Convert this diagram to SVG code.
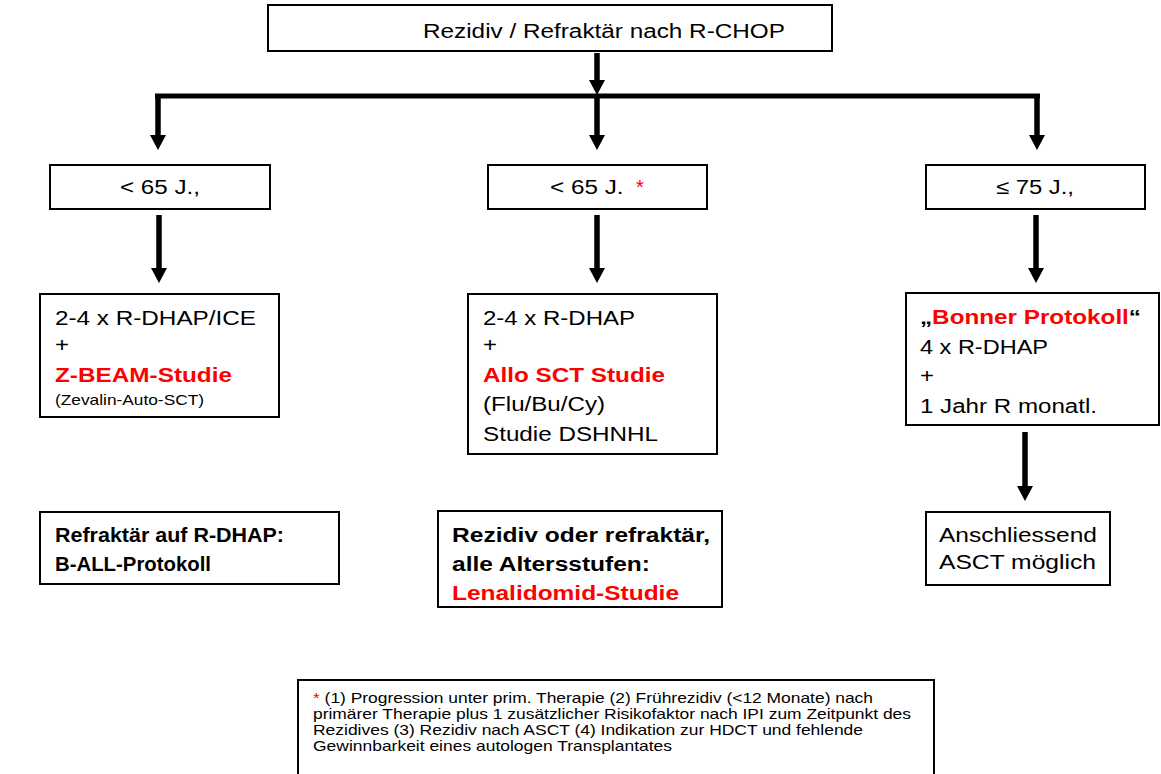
<svg xmlns="http://www.w3.org/2000/svg" width="1161" height="774" viewBox="0 0 1161 774">
<style>
.box{fill:#fff;stroke:#000;stroke-width:2}
.t{font-family:"Liberation Sans",Arial,sans-serif;font-size:20px;fill:#000}
.b{font-weight:bold}
.r{fill:#ff0000}
.s{font-size:15px}
.ln{stroke:#000;stroke-width:5.5;fill:none}
.hd{fill:#000}
</style>
<rect width="1161" height="774" fill="#fff"/>

<g id="connectors">
  <line class="ln" x1="597" y1="53" x2="597" y2="81"/>
  <polygon class="hd" points="589,80 605,80 597,95"/>
  <line x1="155" y1="96" x2="1040" y2="96" stroke="#000" stroke-width="5"/>
  <line class="ln" x1="158" y1="96" x2="158" y2="136"/>
  <polygon class="hd" points="150,135 166,135 158,150"/>
  <line class="ln" x1="597" y1="96" x2="597" y2="136"/>
  <polygon class="hd" points="589,135 605,135 597,150"/>
  <line class="ln" x1="1037" y1="96" x2="1037" y2="136"/>
  <polygon class="hd" points="1029,135 1045,135 1037,150"/>
  <line class="ln" x1="159" y1="215" x2="159" y2="269"/>
  <polygon class="hd" points="151,268 167,268 159,283"/>
  <line class="ln" x1="597" y1="215" x2="597" y2="269"/>
  <polygon class="hd" points="589,268 605,268 597,283"/>
  <line class="ln" x1="1036" y1="215" x2="1036" y2="269"/>
  <polygon class="hd" points="1028,268 1044,268 1036,283"/>
  <line class="ln" x1="1025" y1="432" x2="1025" y2="487"/>
  <polygon class="hd" points="1017,486 1033,486 1025,501"/>
</g>

<g id="n-top">
  <rect class="box" x="268" y="5" width="564" height="46"/>
  <text class="t" x="423" y="38" textLength="362" lengthAdjust="spacingAndGlyphs">Rezidiv / Refraktär nach R-CHOP</text>
</g>

<g id="n-age1">
  <rect class="box" x="50" y="165" width="220" height="44"/>
  <text class="t" x="120" y="194" textLength="80" lengthAdjust="spacingAndGlyphs">&lt; 65 J.,</text>
</g>
<g id="n-age2">
  <rect class="box" x="488" y="165" width="219" height="44"/>
  <text class="t" x="550" y="194" textLength="73.6" lengthAdjust="spacingAndGlyphs">&lt; 65 J.</text>
  <text class="t r" x="636" y="194">*</text>
</g>
<g id="n-age3">
  <rect class="box" x="926" y="165" width="219" height="44"/>
  <text class="t" x="996" y="194" textLength="78" lengthAdjust="spacingAndGlyphs">≤ 75 J.,</text>
</g>

<g id="n-left">
  <rect class="box" x="40" y="294" width="239" height="123"/>
  <text class="t" x="55" y="325" textLength="201" lengthAdjust="spacingAndGlyphs">2-4 x R-DHAP/ICE</text>
  <text class="t" x="55" y="352" textLength="14" lengthAdjust="spacingAndGlyphs">+</text>
  <text class="t b r" x="55" y="382" textLength="177" lengthAdjust="spacingAndGlyphs">Z-BEAM-Studie</text>
  <text class="t s" x="55" y="405" textLength="149" lengthAdjust="spacingAndGlyphs">(Zevalin-Auto-SCT)</text>
</g>

<g id="n-mid">
  <rect class="box" x="468" y="294" width="249" height="160"/>
  <text class="t" x="483" y="325" textLength="152" lengthAdjust="spacingAndGlyphs">2-4 x R-DHAP</text>
  <text class="t" x="483" y="352" textLength="14" lengthAdjust="spacingAndGlyphs">+</text>
  <text class="t b r" x="483" y="382" textLength="182" lengthAdjust="spacingAndGlyphs">Allo SCT Studie</text>
  <text class="t" x="483" y="411" textLength="122" lengthAdjust="spacingAndGlyphs">(Flu/Bu/Cy)</text>
  <text class="t" x="483" y="441" textLength="175" lengthAdjust="spacingAndGlyphs">Studie DSHNHL</text>
</g>

<g id="n-right">
  <rect class="box" x="906" y="293" width="253" height="132"/>
  <text class="t b" x="920" y="324" textLength="221" lengthAdjust="spacingAndGlyphs">„<tspan class="r">Bonner Protokoll</tspan>“</text>
  <text class="t" x="920" y="354" textLength="128" lengthAdjust="spacingAndGlyphs">4 x R-DHAP</text>
  <text class="t" x="920" y="383" textLength="14" lengthAdjust="spacingAndGlyphs">+</text>
  <text class="t" x="920" y="413" textLength="177" lengthAdjust="spacingAndGlyphs">1 Jahr R monatl.</text>
</g>

<g id="n-asct">
  <rect class="box" x="926" y="512" width="184" height="73"/>
  <text class="t" x="939" y="542" textLength="158" lengthAdjust="spacingAndGlyphs">Anschliessend</text>
  <text class="t" x="939" y="569" textLength="157" lengthAdjust="spacingAndGlyphs">ASCT möglich</text>
</g>

<g id="n-refr">
  <rect class="box" x="40" y="512" width="299" height="72"/>
  <text class="t b" x="55" y="542" textLength="229" lengthAdjust="spacingAndGlyphs">Refraktär auf R-DHAP:</text>
  <text class="t b" x="55" y="571" textLength="156" lengthAdjust="spacingAndGlyphs">B-ALL-Protokoll</text>
</g>

<g id="n-lena">
  <rect class="box" x="438" y="511" width="284" height="96"/>
  <text class="t b" x="452" y="542" textLength="258" lengthAdjust="spacingAndGlyphs">Rezidiv oder refraktär,</text>
  <text class="t b" x="452" y="571" textLength="198" lengthAdjust="spacingAndGlyphs">alle Altersstufen:</text>
  <text class="t b r" x="452" y="600" textLength="227" lengthAdjust="spacingAndGlyphs">Lenalidomid-Studie</text>
</g>

<g id="n-foot">
  <rect class="box" x="298" y="680" width="636" height="100"/>
  <text class="t s" x="313" y="703" textLength="560" lengthAdjust="spacingAndGlyphs"><tspan class="r">*</tspan> (1) Progression unter prim. Therapie (2) Frührezidiv (&lt;12 Monate) nach</text>
  <text class="t s" x="313" y="719" textLength="598" lengthAdjust="spacingAndGlyphs">primärer Therapie plus 1 zusätzlicher Risikofaktor nach IPI zum Zeitpunkt des</text>
  <text class="t s" x="313" y="735" textLength="550" lengthAdjust="spacingAndGlyphs">Rezidives (3) Rezidiv nach ASCT (4) Indikation zur HDCT und fehlende</text>
  <text class="t s" x="313" y="751" textLength="359" lengthAdjust="spacingAndGlyphs">Gewinnbarkeit eines autologen Transplantates</text>
</g>
</svg>
